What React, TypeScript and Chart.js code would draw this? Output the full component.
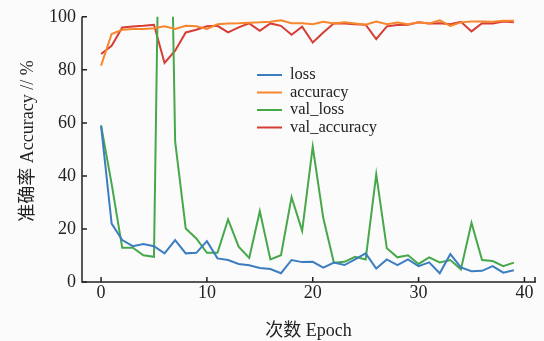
import { useEffect, useRef } from "react";
import { Chart, registerables } from "chart.js";

Chart.register(...registerables);

const epochs = [0, 1, 2, 3, 4, 5, 6, 7, 8, 9, 10, 11, 12, 13, 14, 15, 16, 17, 18, 19, 20, 21, 22, 23, 24, 25, 26, 27, 28, 29, 30, 31, 32, 33, 34, 35, 36, 37, 38, 39];

const loss = [59, 22, 15.8, 13.5, 14.3, 13.5, 10.8, 15.8, 10.8, 11, 15.4, 8.9, 8.3, 6.8, 6.3, 5.3, 4.9, 3.3, 8.3, 7.5, 7.6, 5.4, 7.3, 6.4, 8.5, 10.8, 5.1, 8.5, 6.4, 8.5, 6.0, 7.4, 3.3, 10.5, 5.5, 4.1, 4.2, 6.0, 3.5, 4.4];
const accuracy = [81.6, 93.5, 95.1, 95.4, 95.4, 95.7, 96.4, 95.4, 96.6, 96.4, 95.4, 97.2, 97.5, 97.6, 97.8, 97.9, 98.1, 98.7, 97.6, 97.6, 97.2, 98.1, 97.5, 97.9, 97.5, 97.0, 98.2, 97.2, 97.8, 97.2, 97.9, 97.5, 98.7, 96.6, 97.9, 98.2, 98.2, 98.1, 98.5, 98.5];
const valLoss = [59, 37, 12.9, 12.9, 10.1, 9.5, 283, 53, 20.2, 16.4, 11, 11, 23.6, 13.3, 9.1, 26.7, 8.5, 10.1, 32, 19.3, 51, 24, 7.3, 7.6, 9.5, 8.5, 40.6, 12.7, 9.3, 10.1, 6.8, 9.3, 7.4, 8.3, 4.8, 22.3, 8.3, 7.9, 6.0, 7.3];
const valAccuracy = [86, 89.1, 96, 96.3, 96.6, 97, 82.6, 87.2, 94.1, 95.1, 96.4, 96.6, 94.1, 96, 97.5, 94.7, 97.5, 96.6, 93.2, 96.3, 90.3, 94.1, 97.6, 97.5, 97.2, 97.0, 91.6, 96.4, 96.9, 97, 97.9, 97.5, 97.6, 97.2, 98.1, 94.5, 97.6, 97.5, 98.2, 97.9];

const seriesNames = ["loss", "accuracy", "val_loss", "val_accuracy"];
const xTicks = [0, 10, 20, 30, 40];
const yTicks = [0, 20, 40, 60, 80, 100];
const xTitle = "次数 Epoch";
const yTitle = "准确率 Accuracy // %";

const colors = ["#3c7dc2", "#f7862d", "#46a84a", "#d63d34"];
const FONT = "'Liberation Serif', 'Noto Sans CJK SC', serif";
const AXIS = "#222222";

const decorPlugin = {
  id: "decor",
  beforeDraw(chart: any) {
    const ctx = chart.ctx;
    ctx.save();
    ctx.fillStyle = "#fbfbfb";
    ctx.fillRect(0, 0, chart.width, chart.height);
    ctx.restore();
  },
  afterDraw(chart: any) {
    const ctx = chart.ctx;
    const xs = chart.scales.x;
    const ys = chart.scales.y;
    const { left, right, top, bottom } = chart.chartArea;
    ctx.save();
    ctx.strokeStyle = AXIS;
    ctx.lineWidth = 1.5;
    ctx.beginPath();
    ctx.moveTo(left, top);
    ctx.lineTo(left, bottom);
    ctx.lineTo(right + 1, bottom);
    ctx.stroke();
    ctx.beginPath();
    for (const t of xs.ticks) {
      const px = xs.getPixelForValue(t.value);
      ctx.moveTo(px, bottom);
      ctx.lineTo(px, bottom - 5);
    }
    ctx.moveTo(right, bottom);
    ctx.lineTo(right, bottom - 5);
    for (const t of ys.ticks) {
      const py = ys.getPixelForValue(t.value);
      ctx.moveTo(left, py);
      ctx.lineTo(left + 5, py);
    }
    ctx.stroke();

    // titles
    ctx.fillStyle = "#222";
    ctx.font = `18px ${FONT}`;
    ctx.textAlign = "center";
    ctx.textBaseline = "middle";
    ctx.fillText(xTitle, (left + right) / 2, 331);
    ctx.save();
    ctx.translate(28, 141);
    ctx.rotate(-Math.PI / 2);
    ctx.fillText(yTitle, 0, 0);
    ctx.restore();

    // legend
    ctx.font = `16.5px ${FONT}`;
    ctx.textAlign = "left";
    chart.data.datasets.forEach((ds: any, i: number) => {
      const y = 75 + i * 17.5;
      ctx.strokeStyle = ds.borderColor;
      ctx.lineWidth = 2;
      ctx.beginPath();
      ctx.moveTo(257, y);
      ctx.lineTo(282, y);
      ctx.stroke();
      ctx.fillStyle = "#222";
      ctx.fillText(ds.label, 290, y);
    });
    ctx.restore();
  },
};

export default function App() {
  const ref = useRef<HTMLCanvasElement | null>(null);
  useEffect(() => {
    document.body.style.margin = "0";
    document.body.style.background = "#fbfbfb";
    const canvas = ref.current;
    if (!canvas) return;
    const series = [loss, accuracy, valLoss, valAccuracy];
    const chart = new Chart(canvas, {
      type: "line",
      data: {
        datasets: series.map((arr, i) => ({
          label: seriesNames[i],
          data: epochs.map((e, j) => ({ x: e, y: arr[j] })),
          borderColor: colors[i],
          backgroundColor: colors[i],
          borderWidth: 2,
          pointRadius: 0,
          tension: 0,
          fill: false,
        })),
      },
      options: {
        animation: false,
        responsive: false,
        maintainAspectRatio: false,
        devicePixelRatio: 1,
        layout: { padding: { left: 0, top: 16, right: 9, bottom: 0 } },
        plugins: { legend: { display: false }, tooltip: { enabled: false } },
        scales: {
          x: {
            type: "linear",
            min: -1.8,
            max: 41,
            afterBuildTicks: (s: any) => {
              s.ticks = xTicks.map((v) => ({ value: v }));
            },
            afterFit: (s: any) => {
              s.height = 59;
            },
            grid: { display: false, drawTicks: false },
            border: { display: false },
            ticks: {
              padding: 0,
              color: "#222",
              font: { family: FONT, size: 18 },
              maxRotation: 0,
              autoSkip: false,
            },
          },
          y: {
            type: "linear",
            min: 0,
            max: 100,
            afterBuildTicks: (s: any) => {
              s.ticks = yTicks.map((v) => ({ value: v }));
            },
            afterFit: (s: any) => {
              s.width = 82;
            },
            grid: { display: false, drawTicks: false },
            border: { display: false },
            ticks: {
              padding: 6,
              color: "#222",
              font: { family: FONT, size: 18 },
              autoSkip: false,
            },
          },
        },
      },
      plugins: [decorPlugin],
    });
    return () => chart.destroy();
  }, []);
  return (
    <div style={{ position: "fixed", left: 0, top: 0, width: 544, height: 341 }}>
      <canvas ref={ref} width={544} height={341} style={{ width: 544, height: 341 }} />
    </div>
  );
}
